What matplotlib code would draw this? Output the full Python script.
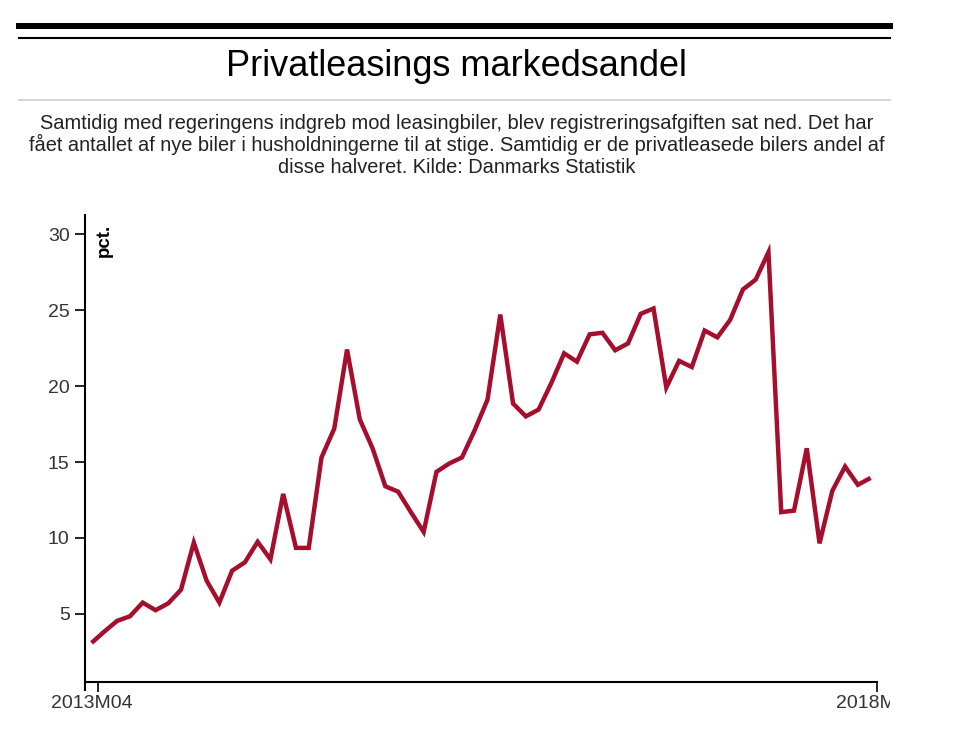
import matplotlib
matplotlib.use('Agg')
import matplotlib.pyplot as plt
from matplotlib.lines import Line2D
from matplotlib.transforms import Bbox, blended_transform_factory

plt.rcParams['font.family'] = ['Liberation Sans', 'DejaVu Sans']

# Privatleasing andel af nye biler i husholdningerne, 2013M04 - 2018M05
andel = [3.1, 3.85, 4.55, 4.85, 5.75, 5.25, 5.7, 6.6, 9.7, 7.2,
         5.75, 7.85, 8.4, 9.75, 8.6, 12.9, 9.35, 9.35, 15.3, 17.2,
         22.4, 17.8, 15.9, 13.4, 13.05, 11.7, 10.4, 14.35, 14.9, 15.3,
         17.1, 19.1, 24.7, 18.85, 18.0, 18.45, 20.2, 22.15, 21.6, 23.4,
         23.5, 22.35, 22.8, 24.75, 25.1, 19.9, 21.65, 21.25, 23.65, 23.2,
         24.35, 26.35, 27.0, 28.8, 11.7, 11.8, 15.9, 9.65, 13.1, 14.7,
         13.5, 13.95]
maaned_foerst = '2013M04'
maaned_sidst = '2018M05'
y_ticks = [5, 10, 15, 20, 25, 30]

titel = 'Privatleasings markedsandel'
undertekst = [
    'Samtidig med regeringens indgreb mod leasingbiler, blev registreringsafgiften sat ned. Det har',
    'fået antallet af nye biler i husholdningerne til at stige. Samtidig er de privatleasede bilers andel af',
    'disse halveret. Kilde: Danmarks Statistik',
]

W, H = 960, 743
fig = plt.figure(figsize=(W / 100, H / 100), dpi=100)


def fx(px):
    return px / W


def fy(py):
    return 1 - py / H


# header lines
fig.add_artist(Line2D([fx(19), fx(890)], [fy(25.5), fy(25.5)], color='black', lw=4.3))
fig.add_artist(Line2D([fx(19), fx(890)], [fy(37.7), fy(37.7)], color='black', lw=1.5))
fig.add_artist(Line2D([fx(19), fx(890)], [fy(100), fy(100)], color='#cccccc', lw=1.2))

fig.text(fx(456), fy(76.5), titel, ha='center', va='baseline', fontsize=26, color='black')
for i, linje in enumerate(undertekst):
    fig.text(fx(457), fy(129.3 + i * 21.7), linje, ha='center', va='baseline',
             fontsize=14.4, color='#222222')

# plot area
ax = fig.add_axes([fx(85), fy(690), fx(877) - fx(85), (690 - 215) / H])
x = list(range(len(andel)))
ax.plot(x, andel, color='#a50f2d', lw=3.2, solid_joinstyle='miter', solid_capstyle='butt')

ax.set_xlim(-0.52, 61.5)
ax.set_ylim(0, 31.25)

for s in ['top', 'right']:
    ax.spines[s].set_visible(False)
ax.spines['left'].set_linewidth(1.5)
ax.spines['bottom'].set_linewidth(1.5)
ax.spines['bottom'].set_position(('data', 0.5))

ax.set_yticks(y_ticks)
ax.tick_params(axis='y', length=7, width=1.2, pad=4, labelsize=14, labelcolor='#333333')
ax.set_xticks([0.52, 61.5])
ax.set_xticklabels([])
ax.tick_params(axis='x', length=7, width=1.2)

trans = blended_transform_factory(ax.transData, fig.transFigure)
ax.text(0, fy(704), maaned_foerst, transform=trans, ha='center', va='center',
        fontsize=14, color='#333333', clip_on=False)
t2 = ax.text(61.5, fy(704), maaned_sidst, transform=trans, ha='center', va='center',
             fontsize=14, color='#333333')
t2.set_clip_on(True)
t2.set_clip_box(Bbox([[0, 0], [890, H]]))

ax.text(fx(104.5), fy(224), 'pct.', transform=fig.transFigure, rotation=90,
        ha='center', va='top', fontsize=13.5, fontweight='bold', color='black')

fig.savefig('out.png', dpi=100)
